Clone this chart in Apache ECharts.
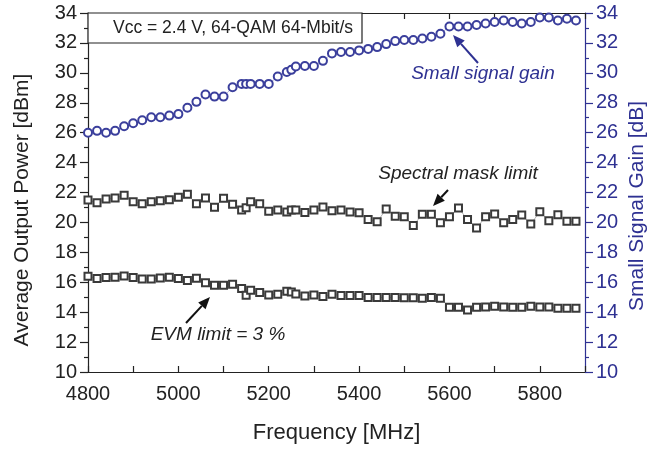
<!DOCTYPE html>
<html>
<head>
<meta charset="utf-8">
<script src="https://cdn.jsdelivr.net/npm/echarts@6/dist/echarts.min.js"></script>
<style>
  html, body { margin: 0; padding: 0; background: #fff; }
  #chart { width: 659px; height: 450px; }
</style>
</head>
<body>
<div id="chart"></div>
<script>
// frequencies in MHz (20 MHz steps plus two band-edge points)
const freq = [4800, 4820, 4840, 4860, 4880, 4900, 4920, 4940, 4960, 4980, 5000, 5020, 5040, 5060, 5080, 5100, 5120, 5140,
  5150, 5160, 5180, 5200, 5220, 5240, 5250,
  5260, 5280, 5300, 5320, 5340, 5360, 5380, 5400, 5420, 5440, 5460, 5480, 5500, 5520, 5540, 5560, 5580,
  5600, 5620, 5640, 5660, 5680, 5700, 5720, 5740, 5760, 5780, 5800, 5820, 5840, 5860, 5880];

// small signal gain [dB] (right axis)
const gain = [26.0, 26.12, 26.0, 26.12, 26.43, 26.63, 26.83, 27.03, 27.03, 27.14, 27.24, 27.66, 28.06, 28.55, 28.41, 28.41, 29.04, 29.26,
  29.26, 29.26, 29.26, 29.26, 29.75, 30.05, 30.2,
  30.42, 30.46, 30.46, 30.8, 31.3, 31.39, 31.39, 31.5, 31.6, 31.72, 31.92, 32.12, 32.2, 32.2, 32.3, 32.41, 32.61,
  33.1, 33.1, 33.1, 33.2, 33.3, 33.4, 33.5, 33.4, 33.3, 33.4, 33.7, 33.7, 33.5, 33.62, 33.5];

// output power at spectral mask limit [dBm]
const maskLimit = [21.5, 21.31, 21.56, 21.63, 21.81, 21.38, 21.25, 21.38, 21.45, 21.52, 21.68, 21.88, 21.25, 21.63, 21.01, 21.61, 21.21, 20.83,
  20.98, 21.38, 21.25, 20.74, 20.83, 20.69, 20.83,
  20.83, 20.67, 20.83, 21.03, 20.78, 20.83, 20.69, 20.64, 20.2, 20.04, 20.89, 20.42, 20.38, 19.8, 20.54, 20.54, 19.97,
  20.38, 20.96, 20.2, 19.62, 20.38, 20.56, 19.97, 20.2, 20.49, 19.89, 20.71, 20.11, 20.51, 20.07, 20.07];

// output power at EVM = 3 % [dBm]
const evmLimit = [16.4, 16.25, 16.32, 16.34, 16.42, 16.32, 16.22, 16.22, 16.29, 16.34, 16.25, 16.12, 16.27, 15.96, 15.8, 15.8, 15.87, 15.58,
  15.13, 15.47, 15.31, 15.15, 15.2, 15.4, 15.35,
  15.22, 15.08, 15.15, 15.04, 15.2, 15.11, 15.11, 15.11, 14.98, 14.98, 14.98, 14.98, 14.96, 14.96, 14.93, 14.98, 14.93,
  14.33, 14.33, 14.15, 14.33, 14.35, 14.4, 14.35, 14.33, 14.33, 14.4, 14.35, 14.35, 14.26, 14.26, 14.26];

const BLUE = '#2e3192';
const FONT = '"Liberation Sans", Arial, sans-serif';

let chart = echarts.init(document.getElementById('chart'));

function pairs(ys) {
  return freq.map((f, i) => [f, ys[i]]);
}

// arrow as a line plus a filled head, pixel coords
function arrow(x1, y1, x2, y2, color) {
  const dx = x2 - x1, dy = y2 - y1;
  const len = Math.sqrt(dx * dx + dy * dy);
  const ux = dx / len, uy = dy / len;
  const hl = 12, hw = 5;
  const bx = x2 - ux * hl, by = y2 - uy * hl;
  return [
    {type: 'line', shape: {x1: x1, y1: y1, x2: bx, y2: by}, style: {stroke: color, lineWidth: 2}},
    {type: 'polygon', shape: {points: [[x2, y2], [bx - uy * hw, by + ux * hw], [bx + uy * hw, by - ux * hw]]},
      style: {fill: color}}
  ];
}

function yAxisBase(color) {
  return {
    type: 'value', min: 10, max: 34, interval: 2,
    axisLine: {show: true, lineStyle: {color: color, width: 1.2}},
    axisTick: {show: true, inside: false, length: 8, lineStyle: {color: color, width: 1.2}},
    minorTick: {show: true, splitNumber: 2, length: 4, lineStyle: {color: color, width: 1.2}},
    axisLabel: {color: color, fontSize: 20, fontFamily: FONT, margin: 11},
    splitLine: {show: false}
  };
}

const option = {
  animation: false,
  backgroundColor: '#fff',
  grid: {left: 88, right: 74, top: 13, bottom: 78},
  xAxis: [{
    type: 'value', min: 4800, max: 5900, interval: 200, position: 'bottom',
    axisLine: {show: true, onZero: false, lineStyle: {color: '#222', width: 1.2}},
    axisTick: {show: true, inside: true, length: 6, lineStyle: {color: '#222', width: 1.2}},
    minorTick: {show: true, splitNumber: 2, length: 6, lineStyle: {color: '#222', width: 1.2}},
    axisLabel: {color: '#222', fontSize: 20, fontFamily: FONT, margin: 12, showMaxLabel: false,
      formatter: (v) => String(v)},
    splitLine: {show: false},
    name: 'Frequency [MHz]', nameLocation: 'middle', nameGap: 50,
    nameTextStyle: {color: '#222', fontSize: 22, fontFamily: FONT}
  }, {
    type: 'value', min: 4800, max: 5900, interval: 100, position: 'top',
    axisLine: {show: true, onZero: false, lineStyle: {color: '#222', width: 1.2}},
    axisTick: {show: true, inside: true, length: 6, lineStyle: {color: '#222', width: 1.2}},
    axisLabel: {show: false},
    splitLine: {show: false}
  }],
  yAxis: [
    Object.assign(yAxisBase('#222'), {position: 'left'}),
    Object.assign(yAxisBase(BLUE), {position: 'right'})
  ],
  series: [{
    name: 'Small signal gain', type: 'line', yAxisIndex: 1,
    data: pairs(gain),
    symbol: 'emptyCircle', symbolSize: 8, showAllSymbol: true,
    lineStyle: {color: BLUE, width: 0.5, opacity: 0.7},
    itemStyle: {color: '#3b3f9c', borderColor: '#3b3f9c', borderWidth: 0.8}
  }, {
    name: 'Spectral mask limit', type: 'line', yAxisIndex: 0,
    data: pairs(maskLimit),
    symbol: 'emptyRect', symbolSize: 7, showAllSymbol: true,
    lineStyle: {color: '#444', width: 0.5, opacity: 0.8},
    itemStyle: {color: '#3a3a3a', borderColor: '#3a3a3a', borderWidth: 0.8}
  }, {
    name: 'EVM limit', type: 'line', yAxisIndex: 0,
    data: pairs(evmLimit),
    symbol: 'emptyRect', symbolSize: 7, showAllSymbol: true,
    lineStyle: {color: '#444', width: 0.5, opacity: 0.8},
    itemStyle: {color: '#3a3a3a', borderColor: '#3a3a3a', borderWidth: 0.8}
  }],
  graphic: [
    {type: 'text', x: 22, y: 210, rotation: Math.PI / 2, z: 101,
      style: {text: 'Average Output Power [dBm]', fontSize: 21, fontFamily: FONT, fill: '#222', align: 'center', verticalAlign: 'middle'}},
    {type: 'text', x: 637, y: 206, rotation: Math.PI / 2, z: 101,
      style: {text: 'Small Signal Gain [dB]', fontSize: 21, fontFamily: FONT, fill: BLUE, align: 'center', verticalAlign: 'middle'}},
    {type: 'rect', shape: {x: 88, y: 13, width: 274, height: 30}, style: {fill: '#fff', stroke: '#222', lineWidth: 1.2}, z: 100},
    {type: 'text', x: 233, y: 28, z: 101,
      style: {text: 'Vcc = 2.4 V, 64-QAM 64-Mbit/s', fontSize: 17.5, fontFamily: FONT, fill: '#222', align: 'center', verticalAlign: 'middle'}},
    {type: 'text', x: 483, y: 74, z: 101,
      style: {text: 'Small signal gain', fontSize: 19, fontStyle: 'italic', fontFamily: FONT, fill: BLUE, align: 'center', verticalAlign: 'middle'}},
    {type: 'text', x: 458, y: 174, z: 101,
      style: {text: 'Spectral mask limit', fontSize: 19, fontStyle: 'italic', fontFamily: FONT, fill: '#222', align: 'center', verticalAlign: 'middle'}},
    {type: 'text', x: 218, y: 335, z: 101,
      style: {text: 'EVM limit = 3 %', fontSize: 19, fontStyle: 'italic', fontFamily: FONT, fill: '#222', align: 'center', verticalAlign: 'middle'}}
  ].concat(arrow(478, 63, 453, 35, BLUE))
   .concat(arrow(448, 190, 433, 206, '#111'))
   .concat(arrow(186, 323, 210, 297, '#111'))
};

chart.setOption(option);
</script>
</body>
</html>
